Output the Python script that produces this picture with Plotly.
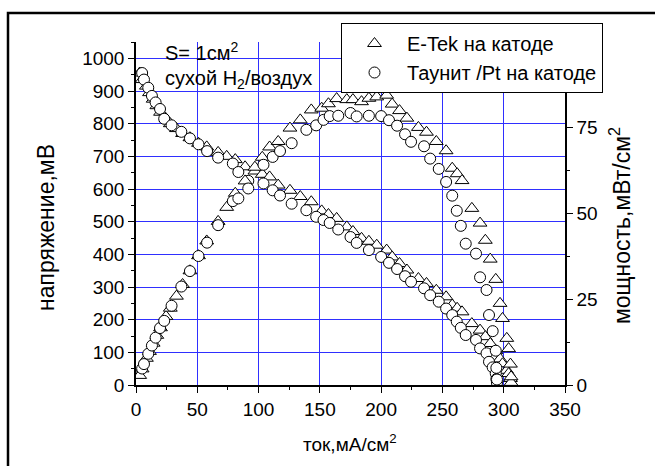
import plotly.graph_objects as go

# ---- data ----
etek_current = [3, 5, 8.5, 11, 14, 17, 20, 24.5, 28, 33, 38, 44, 51, 57.7, 67, 74, 81, 89, 97, 103,
                109, 116, 125.6, 134, 143, 151.5, 157, 163.7, 172, 177, 184, 190, 196.4, 204.5, 209,
                215, 221, 230.4, 237, 245, 253, 258, 262, 266, 274, 280.7, 285, 289, 293.5, 297,
                299, 302.5, 304, 305.5, 306]
etek_voltage = [955, 935, 915, 895, 875, 855, 835, 815, 800, 785, 770, 757, 740, 729, 712, 700, 690,
                668, 655, 645, 637, 612, 596, 577, 561, 533, 522, 510, 484, 470, 449, 440, 428, 413,
                392, 372, 352, 326, 311, 290, 270, 245, 235, 224, 188, 168, 148, 127, 105, 80, 65,
                45, 35, 20, 8]
etek_power = [2.8, 4.7, 7.8, 9.8, 12.2, 14.5, 16.7, 20, 22.4, 25.9, 29.3, 33.3, 37.7, 42, 47.7, 51.8,
              55.9, 59.5, 63.5, 66.4, 69.4, 71, 74.9, 77.3, 80.2, 80.7, 82, 83.5, 83.2, 83.2, 82.6,
              83.6, 84, 84.5, 81.9, 80, 77.8, 75.1, 73.7, 71, 68.3, 63.2, 61.6, 59.6, 51.5, 47.2,
              42.2, 36.7, 30.8, 23.8, 19.4, 13.6, 10.6, 6.1, 2.4]

taunit_current = [5, 6.5, 10, 13, 16, 19.6, 23, 29, 37, 44, 51, 58, 67, 79, 83.5, 91.6, 104, 111.5,
                  117.5, 127, 139, 147, 153, 158, 165, 175, 180, 190, 200, 206.4, 213, 219.5, 224.4,
                  235, 240, 247, 253, 258, 261.7, 265, 269, 277.4, 280.7, 286, 288, 291, 293.5, 294,
                  294.5]
taunit_voltage = [955, 935, 910, 885, 865, 845, 815, 795, 775, 755, 737, 716, 696, 678, 652, 625, 617,
                  596, 580, 555, 535, 515, 505, 496, 476, 453, 435, 413, 392, 374, 355, 333, 316, 296,
                  275, 255, 234, 214, 194, 175, 153, 138, 112, 97, 71, 54, 35, 18, 6]
taunit_power = [4.8, 6.1, 9.1, 11.5, 13.8, 16.6, 18.7, 23.1, 28.7, 33.2, 37.6, 41.5, 46.6, 53.6, 54.4,
                57.3, 64.2, 66.5, 68.2, 70.5, 74.4, 75.7, 77.3, 78.4, 78.5, 79.3, 78.3, 78.5, 78.4,
                77.2, 75.6, 73.1, 70.9, 69.6, 66, 63, 59.2, 55.2, 50.8, 46.4, 41.2, 38.3, 31.4, 27.7,
                20.4, 15.7, 10, 5, 1.6]

series_names = ["E-Tek на катоде", "Таунит /Pt на катоде"]
x_ticks = [0, 50, 100, 150, 200, 250, 300, 350]
y_ticks = [0, 100, 200, 300, 400, 500, 600, 700, 800, 900, 1000]
y2_ticks = [0, 25, 50, 75]

FONT = "Liberation Sans, Arial, sans-serif"
W, H = 655, 466
L, R, T, B = 136, 90, 42, 81
pw, ph = W - L - R, H - T - B


def px2x(px):
    return (px - L) / pw


def py2y(py):
    return (H - B - py) / ph


fig = go.Figure()

tri = dict(symbol="triangle-up", size=12, color="white", line=dict(color="black", width=1))
cir = dict(symbol="circle", size=11, color="white", line=dict(color="black", width=1))

fig.add_trace(go.Scatter(x=etek_current, y=etek_voltage, mode="markers", marker=tri,
                         name=series_names[0], legendgroup="a", yaxis="y"))
fig.add_trace(go.Scatter(x=etek_current, y=etek_power, mode="markers", marker=tri,
                         name=series_names[0], legendgroup="a", showlegend=False, yaxis="y2"))
fig.add_trace(go.Scatter(x=taunit_current, y=taunit_voltage, mode="markers", marker=cir,
                         name=series_names[1], legendgroup="b", yaxis="y"))
fig.add_trace(go.Scatter(x=taunit_current, y=taunit_power, mode="markers", marker=cir,
                         name=series_names[1], legendgroup="b", showlegend=False, yaxis="y2"))

axis_common = dict(showline=True, linecolor="black", linewidth=1.5, ticks="outside", ticklen=6,
                   tickwidth=1, tickcolor="black", zeroline=False,
                   tickfont=dict(family=FONT, size=19, color="black"))

fig.update_layout(
    width=W, height=H,
    margin=dict(l=L, r=R, t=T, b=B, pad=0),
    paper_bgcolor="white", plot_bgcolor="white",
    font=dict(family=FONT, size=18, color="black"),
    xaxis=dict(range=[0, 350], tickvals=x_ticks, showgrid=True, gridcolor="#2f2fff", gridwidth=1,
               minor=dict(dtick=25, tick0=0, ticks="outside", ticklen=3, tickcolor="black", showgrid=False),
               **axis_common),
    yaxis=dict(range=[0, 1050], tickvals=y_ticks, showgrid=True, gridcolor="#2f2fff", gridwidth=1,
               minor=dict(dtick=50, tick0=0, ticks="outside", ticklen=3, tickcolor="black", showgrid=False),
               **axis_common),
    yaxis2=dict(range=[0, 100], tickvals=y2_ticks, overlaying="y", side="right", anchor="x",
                showgrid=False,
                minor=dict(tickvals=[12.5, 37.5, 62.5, 87.5], ticks="outside", ticklen=3,
                           tickcolor="black", showgrid=False),
                **axis_common),
    legend=dict(x=px2x(341), y=py2y(23), xanchor="left", yanchor="top",
                bgcolor="white", bordercolor="black", borderwidth=1,
                font=dict(family=FONT, size=20, color="black"), tracegroupgap=0,
                itemwidth=55),
    showlegend=True,
)

ann = dict(xref="paper", yref="paper", showarrow=False, font=dict(family=FONT, size=20, color="black"))
fig.add_annotation(text="S= 1см<sup>2</sup>", x=px2x(163), y=py2y(52), xanchor="left", yanchor="middle", **ann)
fig.add_annotation(text="сухой H<sub>2</sub>/воздух", x=px2x(163), y=py2y(80), xanchor="left",
                   yanchor="middle", **ann)
title_font = dict(family=FONT, size=23, color="black")
fig.add_annotation(text="напряжение,мВ", x=px2x(46), y=py2y(228), textangle=-90,
                   xanchor="center", yanchor="middle", xref="paper", yref="paper", showarrow=False,
                   font=title_font)
fig.add_annotation(text="мощность,мВт/см<sup>2</sup>", x=px2x(620), y=py2y(226), textangle=-90,
                   xanchor="center", yanchor="middle", xref="paper", yref="paper", showarrow=False,
                   font=title_font)
fig.add_annotation(text="ток,мА/см<sup>2</sup>", x=px2x(350), y=py2y(443), xanchor="center",
                   yanchor="middle", xref="paper", yref="paper", showarrow=False,
                   font=dict(family=FONT, size=19, color="black"))

# outer frame of the figure
fig.add_shape(type="rect", xref="paper", yref="paper", x0=px2x(8), x1=px2x(664), y0=py2y(13),
              y1=py2y(475), line=dict(color="black", width=2.5), fillcolor="rgba(0,0,0,0)", layer="below")

fig.write_html("out.html")
